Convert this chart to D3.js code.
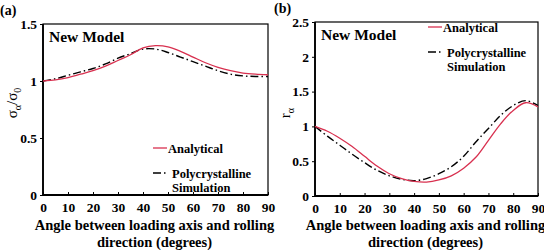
<!DOCTYPE html>
<html>
<head>
<meta charset="utf-8">
<script src="https://cdn.jsdelivr.net/npm/d3@7"></script>
<style>
  body { margin: 0; background: #fff; }
</style>
</head>
<body>
<div id="chart"></div>
<script>
const angles = [0, 5, 10, 15, 20, 25, 30, 35, 40, 45, 50, 55, 60, 65, 70, 75, 80, 85, 90];

// panel (a) normalised yield stress
const stressAnalytical = [1.0, 1.01, 1.03, 1.06, 1.09, 1.13, 1.18, 1.23, 1.29, 1.31, 1.30, 1.26, 1.21, 1.16, 1.12, 1.09, 1.07, 1.06, 1.055];
const stressSimulation = [1.0, 1.02, 1.05, 1.08, 1.11, 1.15, 1.20, 1.24, 1.28, 1.28, 1.25, 1.21, 1.17, 1.13, 1.09, 1.06, 1.045, 1.04, 1.04];

// panel (b) r-value
const rAnalytical = [1.0, 0.93, 0.83, 0.71, 0.57, 0.43, 0.32, 0.25, 0.21, 0.20, 0.23, 0.29, 0.40, 0.56, 0.80, 1.04, 1.23, 1.34, 1.28];
const rSimulation = [1.0, 0.86, 0.73, 0.60, 0.48, 0.37, 0.29, 0.24, 0.22, 0.25, 0.32, 0.42, 0.57, 0.78, 0.97, 1.16, 1.30, 1.37, 1.30];

const xTicks = [0, 10, 20, 30, 40, 50, 60, 70, 80, 90];
const stressTicks = [0, 0.5, 1, 1.5];
const rTicks = [0, 0.5, 1, 1.5, 2, 2.5];

const xTitle = ['Angle between loading axis and rolling', 'direction (degrees)'];
const legendLabels = ['Analytical', 'Polycrystalline', 'Simulation'];

const red = '#d8304f';
const dash = '8 3 1.5 3';
const serif = '"Liberation Serif", "Times New Roman", serif';

const svg = d3.select('#chart').append('svg').attr('width', 544).attr('height', 250);

const panels = [
  { tag: '(a)', tagX: 0, tagY: 15, left: 43, right: 268, top: 24, bottom: 195,
    yMax: 1.5, yTicks: stressTicks, series: [stressAnalytical, stressSimulation],
    legend: { x: 153, y: 148 }, yLabel: 'sigma', yLabelX: 17, yLabelY: 103 },
  { tag: '(b)', tagX: 274, tagY: 13, left: 315, right: 538, top: 22, bottom: 196,
    yMax: 2.5, yTicks: rTicks, series: [rAnalytical, rSimulation],
    legend: { x: 428, y: 27 }, yLabel: 'r', yLabelX: 290, yLabelY: 113 }
];

panels.forEach(drawPanel);

// every label in Times-like serif
svg.selectAll('text').attr('font-family', serif);

function drawPanel(p) {
  const g = svg.append('g');
  const x = d3.scaleLinear().domain([0, 90]).range([p.left, p.right]);
  const y = d3.scaleLinear().domain([0, p.yMax]).range([p.bottom, p.top]);

  g.append('text')
    .attr('x', p.tagX).attr('y', p.tagY)
    .attr('font-size', 14).attr('font-weight', 'bold')
    .text(p.tag);

  // x axis, ticks pointing inward
  const xa = g.append('g')
    .attr('transform', `translate(0,${p.bottom})`)
    .call(d3.axisBottom(x).tickValues(xTicks).tickSizeInner(-3).tickSizeOuter(0).tickPadding(7));
  xa.selectAll('text').attr('font-size', 13.5).attr('font-weight', 'bold').attr('fill', '#000');
  xa.select('.domain').remove();

  const ya = g.append('g')
    .attr('transform', `translate(${p.left},0)`)
    .call(d3.axisLeft(y).tickValues(p.yTicks).tickFormat(d3.format('')).tickSizeInner(3).tickSizeOuter(0).tickPadding(3));
  ya.selectAll('text').attr('font-size', 13.5).attr('font-weight', 'bold').attr('fill', '#000');
  ya.select('.domain').remove();

  // frame
  g.append('rect')
    .attr('x', p.left).attr('y', p.top)
    .attr('width', p.right - p.left).attr('height', p.bottom - p.top)
    .attr('fill', 'none').attr('stroke', '#000').attr('stroke-width', 1.2);
  g.append('line').attr('x1', p.left).attr('x2', p.left).attr('y1', p.top).attr('y2', p.bottom)
    .attr('stroke', '#000').attr('stroke-width', 1.8);
  g.append('line').attr('x1', p.left).attr('x2', p.right).attr('y1', p.bottom).attr('y2', p.bottom)
    .attr('stroke', '#000').attr('stroke-width', 1.8);

  const line = d3.line()
    .x((d, i) => x(angles[i]))
    .y(d => y(d))
    .curve(d3.curveCatmullRom);

  g.append('path').datum(p.series[1])
    .attr('d', line).attr('fill', 'none')
    .attr('stroke', '#000').attr('stroke-width', 1.4).attr('stroke-dasharray', dash);
  g.append('path').datum(p.series[0])
    .attr('d', line).attr('fill', 'none')
    .attr('stroke', red).attr('stroke-width', 1.3);

  g.append('text')
    .attr('x', p.left + 6).attr('y', p.top + 18)
    .attr('font-size', 15.5).attr('font-weight', 'bold')
    .text('New Model');

  // legend
  const lg = g.append('g').attr('transform', `translate(${p.legend.x},${p.legend.y})`);
  lg.append('line').attr('x1', 0).attr('x2', 14).attr('y1', 0).attr('y2', 0)
    .attr('stroke', red).attr('stroke-width', 1.3);
  lg.append('text').attr('x', 15).attr('y', 4.5)
    .attr('font-size', 12.5).attr('font-weight', 'bold').text(legendLabels[0]);
  lg.append('line').attr('x1', 0).attr('x2', 14).attr('y1', 25).attr('y2', 25)
    .attr('stroke', '#000').attr('stroke-width', 1.4).attr('stroke-dasharray', dash);
  lg.append('text').attr('x', 19).attr('y', 29.5)
    .attr('font-size', 12.5).attr('font-weight', 'bold').text(legendLabels[1]);
  lg.append('text').attr('x', 19).attr('y', 43.5)
    .attr('font-size', 12.5).attr('font-weight', 'bold').text(legendLabels[2]);

  // axis titles
  const xt = g.append('text')
    .attr('text-anchor', 'middle')
    .attr('font-size', 14.5).attr('font-weight', 'bold');
  xt.append('tspan').attr('x', (p.left + p.right) / 2 - 1).attr('y', 230).text(xTitle[0]);
  xt.append('tspan').attr('x', (p.left + p.right) / 2 - 1).attr('y', 247).text(xTitle[1]);

  const yt = g.append('text')
    .attr('transform', `translate(${p.yLabelX},${p.yLabelY}) rotate(-90)`)
    .attr('text-anchor', 'middle')
    .attr('font-size', 15);
  if (p.yLabel === 'sigma') {
    yt.append('tspan').text('σ');
    yt.append('tspan').attr('font-size', 10).attr('dy', 4).text('α');
    yt.append('tspan').attr('dy', -4).text('/σ');
    yt.append('tspan').attr('font-size', 10).attr('dy', 4).text('0');
  } else {
    yt.append('tspan').text('r');
    yt.append('tspan').attr('font-size', 10).attr('dy', 4).text('α');
  }
}
</script>
</body>
</html>
